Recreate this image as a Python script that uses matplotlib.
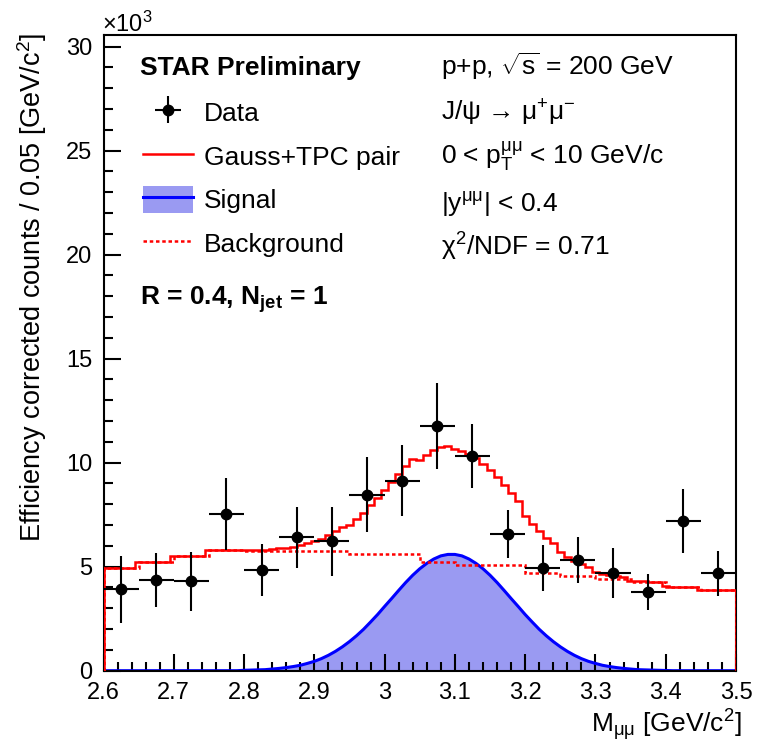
import numpy as np
import matplotlib
matplotlib.use("Agg")
import matplotlib.pyplot as plt
from matplotlib.lines import Line2D
from matplotlib.patches import Patch
from matplotlib.ticker import MultipleLocator, FuncFormatter

plt.rcParams['font.family'] = ['Liberation Sans', 'DejaVu Sans']
plt.rcParams['mathtext.fontset'] = 'custom'
plt.rcParams['mathtext.rm'] = 'Liberation Sans'
plt.rcParams['mathtext.it'] = 'Liberation Sans:italic'
plt.rcParams['mathtext.bf'] = 'Liberation Sans:bold'

# ==========================
# DATA (counts in units of 10^3)
# ==========================

mass = [2.625, 2.675, 2.725, 2.775, 2.825, 2.875, 2.925, 2.975, 3.025,
        3.075, 3.125, 3.175, 3.225, 3.275, 3.325, 3.375, 3.425, 3.475]
counts = [3.91, 4.36, 4.30, 7.52, 4.84, 6.41, 6.22, 8.45, 9.13,
          11.76, 10.32, 6.57, 4.95, 5.32, 4.68, 3.77, 7.20, 4.68]
count_err = [1.60, 1.30, 1.42, 1.72, 1.25, 1.47, 1.67, 1.80, 1.70,
             2.06, 1.55, 1.15, 1.10, 1.10, 1.20, 0.87, 1.53, 1.07]
bin_half = 0.025

# background template (TPC pair), step histogram
bkg_edges = [2.60, 2.65, 2.70, 2.75, 2.80, 2.95, 3.05, 3.10,
             3.20, 3.25, 3.30, 3.35, 3.40, 3.45, 3.50]
bkg_vals = [4.95, 5.24, 5.53, 5.79, 5.77, 5.61, 5.23, 5.06,
            4.72, 4.55, 4.39, 4.25, 4.04, 3.88]

# signal curve read every 0.01 from 2.80 to 3.40 (zero outside)
sig_start, sig_step = 2.80, 0.01
signal = [0.02, 0.03, 0.04, 0.05, 0.08, 0.11, 0.15, 0.20, 0.26, 0.35,
          0.45, 0.58, 0.74, 0.93, 1.15, 1.40, 1.68, 1.99, 2.34, 2.70,
          3.09, 3.47, 3.86, 4.24, 4.59, 4.90, 5.16, 5.37, 5.52, 5.59,
          5.59, 5.52, 5.37, 5.16, 4.90, 4.59, 4.24, 3.86, 3.47, 3.09,
          2.70, 2.34, 1.99, 1.68, 1.40, 1.15, 0.93, 0.74, 0.58, 0.45,
          0.35, 0.26, 0.20, 0.15, 0.11, 0.08, 0.05, 0.04, 0.03, 0.02,
          0.01]

# ==========================
# CURVES
# ==========================

grid = np.round(np.arange(2.60, 3.5001, 0.01), 2)
sig_full = np.zeros(len(grid))
i0 = int(round((sig_start - 2.60) / sig_step))
sig_full[i0:i0 + len(signal)] = signal

idx = np.clip(np.searchsorted(bkg_edges, grid, side='right') - 1, 0, len(bkg_vals) - 1)
total = np.array(bkg_vals)[idx] + sig_full
fine_edges = np.concatenate([[2.60], (grid[:-1] + grid[1:]) / 2, [3.50]])

# ==========================
# FIGURE
# ==========================

fig = plt.figure(figsize=(7.65, 7.42), dpi=100)
ax = fig.add_axes([0.1353, 0.0961, 0.8268, 0.8567])

sig_color = '#9a9af2'
ax.fill_between(grid, sig_full, color=sig_color, lw=0, zorder=1)
ax.plot(grid, sig_full, color='#0000ff', lw=2.2, zorder=2)

dotted = (0, (1.4, 1.1))
ax.stairs(bkg_vals, bkg_edges, color='red', lw=1.8, ls=dotted, zorder=3)
ax.stairs(total, fine_edges, baseline=0, color='red', lw=1.8, zorder=4)

h_data = ax.errorbar(mass, counts, xerr=bin_half, yerr=count_err, fmt='o',
                     color='black', ms=7.5, elinewidth=1.5, capsize=0, zorder=5)

ax.set_xlim(2.6, 3.5)
ax.set_ylim(0, 30.56)

ax.xaxis.set_major_locator(MultipleLocator(0.1))
ax.xaxis.set_minor_locator(MultipleLocator(0.02))
ax.yaxis.set_major_locator(MultipleLocator(5))
ax.yaxis.set_minor_locator(MultipleLocator(1))
ax.xaxis.set_major_formatter(FuncFormatter(lambda v, p: '%g' % round(v, 2)))

ax.tick_params(which='both', direction='in', top=False, right=False,
               width=1.5, labelsize=17)
ax.tick_params(which='major', length=12.5, pad=8)
ax.tick_params(which='minor', length=6.5)
for s in ax.spines.values():
    s.set_linewidth(1.5)

ax.set_xlabel(r'M$_{\mathrm{\mu\mu}}$ [GeV/c$^{2}$]', fontsize=19, loc='right')
ax.xaxis.set_label_coords(1.01, -0.058)
ax.set_ylabel(r'Efficiency corrected counts / 0.05 [GeV/c$^{2}$]', fontsize=19.5,
              loc='top')
ax.yaxis.set_label_coords(-0.086, 1.003)

ax.text(-0.003, 1.005, r'$\times$10$^{3}$', transform=ax.transAxes,
        fontsize=17, ha='left', va='baseline')

# ==========================
# LEGEND AND LABELS
# ==========================

h_fit = Line2D([], [], color='red', lw=1.8)
h_sig = (Patch(facecolor=sig_color, edgecolor='none'),
         Line2D([], [], color='#0000ff', lw=2.2))
h_bkg = Line2D([], [], color='red', lw=1.8, ls=dotted)
ax.legend([h_data, h_fit, h_sig, h_bkg],
          ['Data', 'Gauss+TPC pair', 'Signal', 'Background'],
          loc='upper left', bbox_to_anchor=(0.062, 0.900), frameon=False,
          fontsize=19, handlelength=1.9, handleheight=1.15,
          handletextpad=0.42, labelspacing=0.64, borderpad=0,
          borderaxespad=0)

ax.text(0.0577, 0.937, 'STAR Preliminary', transform=ax.transAxes,
        fontsize=19, fontweight='bold', va='baseline')
ax.text(0.0577, 0.575, r'R = 0.4, N$_{\mathbf{jet}}$ = 1',
        transform=ax.transAxes, fontsize=19, fontweight='bold', va='baseline')

right_lines = [
    r'p+p, $\sqrt{\mathrm{s}}$ = 200 GeV',
    r'J/$\mathrm{\psi}$ → $\mathrm{\mu^{+}\mu^{-}}$',
    r'0 < p$_{\mathrm{T}}^{\mathrm{\mu\mu}}$ < 10 GeV/c',
    r'|y$^{\mathrm{\mu\mu}}$| < 0.4',
    r'$\mathrm{\chi^{2}}$/NDF = 0.71',
]
right_y = [0.937, 0.866, 0.798, 0.7225, 0.6537]
for txt, yy in zip(right_lines, right_y):
    ax.text(0.533, yy, txt, transform=ax.transAxes, fontsize=19, va='baseline')

fig.savefig('out.png', dpi=100)
